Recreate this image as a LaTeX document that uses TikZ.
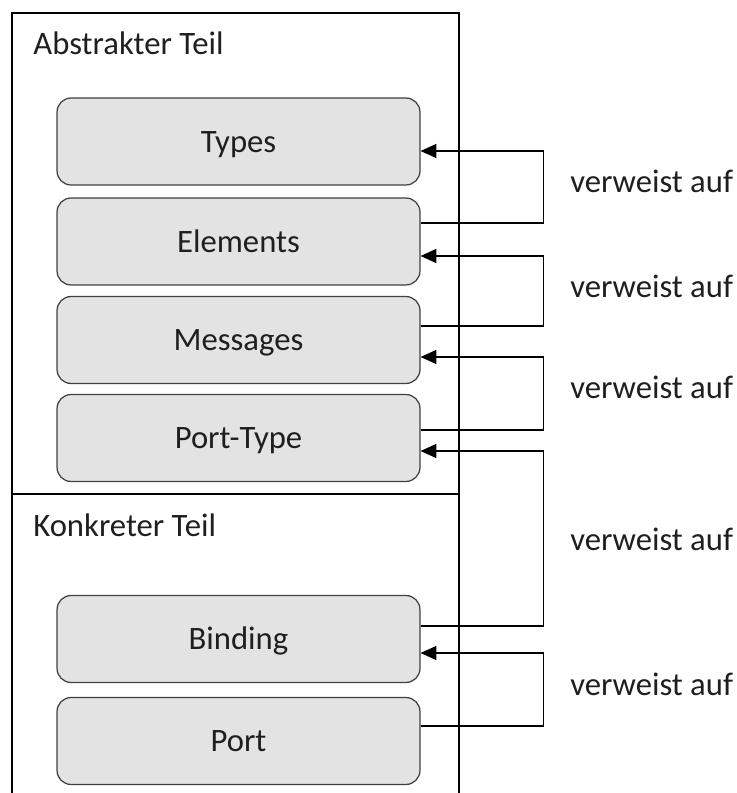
\documentclass[tikz,border=0pt]{standalone}
\usepackage{fontspec}
\setmainfont{Carlito}
\usetikzlibrary{arrows.meta,calc}

\begin{document}
\begin{tikzpicture}[x=0.02cm,y=-0.02cm]
		\tikzstyle{every node}+=[inner sep=0pt]
		\tikzstyle{part}=[draw=black!75,fill=black!11,rounded corners=8pt,line width=0.7pt,minimum width=7.26cm,minimum height=1.74cm,text height=12pt,text depth=0pt,font=\fontsize{18.6}{22}\selectfont,text=black!88]
		\tikzstyle{ref}=[black,line width=0.7pt,-{Triangle[length=9pt,width=8pt]}]
		\tikzstyle{lbl}=[anchor=base west,font=\fontsize{18.6}{22}\selectfont,text=black!88]
		\useasboundingbox (0,0) rectangle (736,793);
		\draw [black,line width=0.8pt] (12,793) -- (12,13) -- (459,13) -- (459,793);
		\draw [black,line width=0.8pt] (12,494) -- (459,494);
		\node [lbl] (abstrakt) at (33,55) {Abstrakter Teil};
		\node [lbl] (konkret) at (33,536) {Konkreter Teil};
		\node [part] (types) at (238.5,141.5) {Types};
		\node [part] (elements) at (238.5,241.5) {Elements};
		\node [part] (messages) at (238.5,340) {Messages};
		\node [part] (porttype) at (238.5,438) {Port-Type};
		\node [part] (binding) at (238.5,639) {Binding};
		\node [part] (port) at (238.5,741) {Port};
		\draw [ref] ($(elements.east)+(0,-18.5)$) -- ++(123,0) |- ($(types.east)+(0,9.5)$);
		\node [lbl] (ref1) at (570,193) {verweist auf};
		\draw [ref] ($(messages.east)+(0,-14)$) -- ++(123,0) |- ($(elements.east)+(0,14.5)$);
		\node [lbl] (ref2) at (570,297) {verweist auf};
		\draw [ref] ($(porttype.east)+(0,-8)$) -- ++(123,0) |- ($(messages.east)+(0,17)$);
		\node [lbl] (ref3) at (570,398) {verweist auf};
		\draw [ref] ($(binding.east)+(0,-13)$) -- ++(123,0) |- ($(porttype.east)+(0,13)$);
		\node [lbl] (ref4) at (570,550) {verweist auf};
		\draw [ref] ($(port.east)+(0,-15)$) -- ++(123,0) |- ($(binding.east)+(0,14)$);
		\node [lbl] (ref5) at (570,695) {verweist auf};
\end{tikzpicture}
\end{document}
